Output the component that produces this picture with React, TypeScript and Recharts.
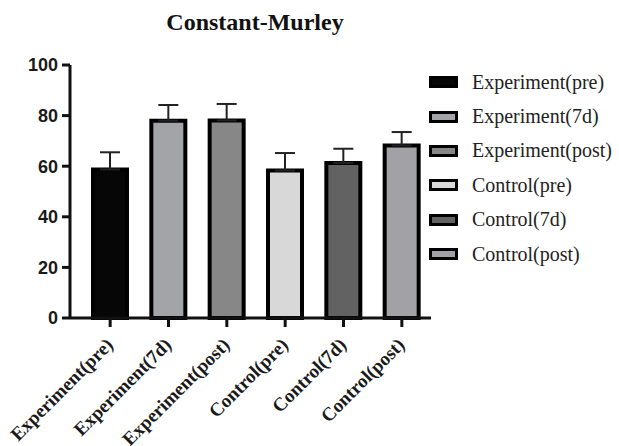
import React from 'react'
import { Bar, BarChart, Cell, ErrorBar, XAxis, YAxis } from 'recharts'

const categories = [
  'Experiment(pre)',
  'Experiment(7d)',
  'Experiment(post)',
  'Control(pre)',
  'Control(7d)',
  'Control(post)',
]
const means = [58.7, 78, 78.1, 58.3, 61.3, 68.2]
const upperErrors = [6.8, 6.2, 6.5, 6.9, 5.6, 5.3]
const colors = ['#060606', '#a3a4a8', '#878787', '#d8d8d8', '#626262', '#a2a2a6']
const yTicks = [0, 20, 40, 60, 80, 100]

const data = categories.map((name, i) => ({
  name,
  value: means[i],
  err: [0, upperErrors[i]],
}))

const serif = '"Liberation Serif", "Times New Roman", serif'
const sans = '"Liberation Sans", Arial, sans-serif'

function XTick(props: any) {
  const { x, y, payload } = props
  const ax = x + 4
  const ay = y + 17
  return (
    <text
      x={ax}
      y={ay}
      transform={`rotate(-45 ${ax} ${ay})`}
      textAnchor="end"
      fontFamily={serif}
      fontWeight="bold"
      fontSize={19}
      fill="#1a1a1a"
    >
      {payload.value}
    </text>
  )
}

function SideLegend() {
  return (
    <div
      style={{
        position: 'absolute',
        left: 429,
        top: 65,
        fontFamily: serif,
        fontSize: 20,
        color: '#222',
      }}
    >
      {categories.map((c, i) => (
        <div
          key={c}
          style={{ display: 'flex', alignItems: 'center', height: 34.4, whiteSpace: 'nowrap' }}
        >
          <span
            style={{
              display: 'inline-block',
              width: 23,
              height: 6,
              border: '3px solid #000',
              background: colors[i],
              marginRight: 14,
            }}
          />
          <span>{c}</span>
        </div>
      ))}
    </div>
  )
}

export default function App() {
  return (
    <div
      style={{
        position: 'absolute',
        left: 0,
        top: 0,
        width: 619,
        height: 446,
        background: '#fff',
      }}
    >
      <div
        style={{
          position: 'absolute',
          left: 0,
          width: 510,
          top: 9,
          textAlign: 'center',
          fontFamily: serif,
          fontWeight: 'bold',
          fontSize: 24,
          color: '#111',
        }}
      >
        Constant-Murley
      </div>
      <BarChart
        width={619}
        height={446}
        data={data}
        margin={{ top: 65, right: 188, left: 0, bottom: 8 }}
      >
        <XAxis
          dataKey="name"
          interval={0}
          height={120}
          padding={{ left: 11, right: 0 }}
          axisLine={{ stroke: '#111', strokeWidth: 3 }}
          tickLine={{ stroke: '#111', strokeWidth: 3 }}
          tickSize={9}
          tick={<XTick />}
        />
        <YAxis
          domain={[0, 100]}
          ticks={yTicks}
          width={70}
          axisLine={{ stroke: '#111', strokeWidth: 3 }}
          tickLine={{ stroke: '#111', strokeWidth: 3 }}
          tickSize={8}
          tickMargin={4}
          tick={{ fontFamily: sans, fontWeight: 'bold', fontSize: 18, fill: '#1a1a1a' }}
        />
        <Bar
          dataKey="value"
          barSize={34}
          stroke="#000"
          strokeWidth={4}
          isAnimationActive={false}
        >
          {data.map((d, i) => (
            <Cell key={d.name} fill={colors[i]} />
          ))}
          <ErrorBar dataKey="err" width={10} stroke="#222" strokeWidth={2} />
        </Bar>
      </BarChart>
      <SideLegend />
    </div>
  )
}
